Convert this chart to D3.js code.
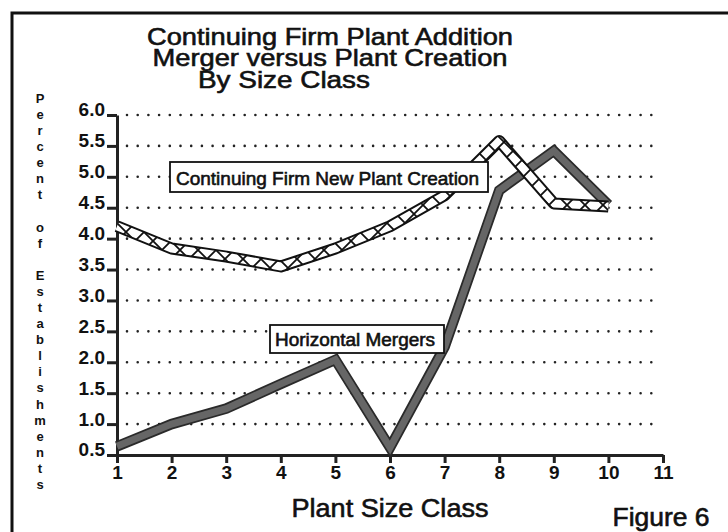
<!DOCTYPE html>
<html lang="en">
<head>
    <meta charset="UTF-8">
    <title>Continuing Firm Plant Addition</title>

<style>
html, body {
    margin: 0;
    padding: 0;
    background: #fff;
}

#graph {
    width: 728px;
    height: 532px;
}

text {
    font-family: "Liberation Sans", Arial, Helvetica, sans-serif;
    fill: #111;
}

.heavy {
    stroke: #111;
    stroke-width: 0.6;
}

.axis text {
    font-weight: bold;
    font-size: 19px;
}

.axis .domain,
.axis .tick line {
    stroke: #222;
    stroke-width: 3;
}

.gridLine {
    stroke: #222;
    stroke-width: 2.6;
    stroke-linecap: round;
    stroke-dasharray: 0 10.7;
}

.legendBox {
    fill: #fff;
    stroke: #111;
    stroke-width: 1.8;
}

</style>

</head>
<body>

<div id="graph"></div>

<script src="https://cdn.jsdelivr.net/npm/d3@7"></script>
<script>

// values
const sizeClasses = [1, 2, 3, 4, 5, 6, 7, 8, 9, 10];
const newPlantCreation = [4.2, 3.84, 3.71, 3.55, 3.84, 4.2, 4.7, 5.58, 4.57, 4.52];
const horizontalMergers = [0.64, 1.0, 1.25, 1.65, 2.04, 0.62, 2.25, 4.78, 5.42, 4.55];

const xTicks = [1, 2, 3, 4, 5, 6, 7, 8, 9, 10, 11];
const yTicks = [0.5, 1.0, 1.5, 2.0, 2.5, 3.0, 3.5, 4.0, 4.5, 5.0, 5.5, 6.0];
const gridValues = [1.0, 1.5, 2.0, 2.5, 3.0, 3.5, 4.0, 4.5, 5.0, 5.5, 6.0];

const titleLines = ["Continuing Firm Plant Addition", "Merger versus Plant Creation", "By Size Class"];
const yTitle = "Percent of Establishments";
const xTitle = "Plant Size Class";
const figureLabel = "Figure 6";
const seriesNames = ["Continuing Firm New Plant Creation", "Horizontal Mergers"];


!(function(){
    let width = 728;
    let height = 532;
    let margin = { top: 115, left: 117, bottom: 77, right: 65 };
    let chartWidth = width - margin.left - margin.right;
    let chartHeight = height - margin.top - margin.bottom;

    let svg = d3.select("#graph").append("svg")
        .attr("width", width)
        .attr("height", height);

    let defs = svg.append("defs");
    let frameLayer = svg.append("g").classed("frameLayer", true);
    let gridLayer = svg.append("g").classed("gridLayer", true)
        .attr("transform", `translate(${margin.left}, ${margin.top})`);
    let axisLayer = svg.append("g").classed("axisLayer", true);
    let chartLayer = svg.append("g").classed("chartLayer", true)
        .attr("transform", `translate(${margin.left}, ${margin.top})`);
    let labelLayer = svg.append("g").classed("labelLayer", true);

    let xScale = d3.scaleLinear().domain([1, 11]).range([0, chartWidth]);
    let yScale = d3.scaleLinear().domain([0.5, 6.0]).range([chartHeight, 0]);

    drawFrame();
    drawGrid();
    drawAxis();
    drawChart();
    drawLabels();

    function drawFrame() {
        // heavy border at the top and left of the page
        frameLayer.append("path")
            .attr("d", "M12,532 L12,13 L728,13")
            .attr("fill", "none")
            .attr("stroke", "#111")
            .attr("stroke-width", 3);

        let title = frameLayer.append("g");
        let titleX = [330, 330, 284];
        let titleY = [45, 66, 88];
        let titleW = [366, 355, 172];
        title.selectAll("text")
            .data(titleLines)
            .enter().append("text")
            .attr("class", "heavy")
            .attr("x", (d, i) => titleX[i])
            .attr("y", (d, i) => titleY[i])
            .attr("text-anchor", "middle")
            .attr("font-size", 24)
            .attr("textLength", (d, i) => titleW[i])
            .attr("lengthAdjust", "spacingAndGlyphs")
            .text(d => d);
    }

    function drawGrid() {
        gridLayer.selectAll(".gridLine")
            .data(gridValues)
            .enter().append("line")
            .attr("class", "gridLine")
            .attr("x1", 10)
            .attr("x2", chartWidth - 3)
            .attr("y1", d => yScale(d))
            .attr("y2", d => yScale(d));
    }

    function drawAxis() {
        let yAxis = d3.axisLeft(yScale)
            .tickValues(yTicks)
            .tickFormat(d3.format(".1f"))
            .tickSizeInner(10)
            .tickSizeOuter(0)
            .tickPadding(2);

        axisLayer.append("g")
            .attr("class", "axis y")
            .attr("transform", `translate(${margin.left}, ${margin.top})`)
            .call(yAxis)
            .call(g => g.selectAll(".tick text").attr("dy", "0.05em"));

        let xAxis = d3.axisBottom(xScale)
            .tickValues(xTicks)
            .tickFormat(d3.format("d"))
            .tickSizeInner(8)
            .tickSizeOuter(0)
            .tickPadding(3);

        axisLayer.append("g")
            .attr("class", "axis x")
            .attr("transform", `translate(${margin.left}, ${margin.top + chartHeight})`)
            .call(xAxis);

        axisLayer.selectAll(".axis").attr("font-family", null).attr("font-size", null);
    }

    function drawChart() {
        let lineGen = d3.line()
            .x(d => xScale(d[0]))
            .y(d => yScale(d[1]));

        let mergers = sizeClasses.map((c, i) => [c, horizontalMergers[i]]);
        let creation = sizeClasses.map((c, i) => [c, newPlantCreation[i]]);

        // cross hatch for the outlined ribbon
        let hatch = defs.append("pattern")
            .attr("id", "hatch")
            .attr("patternUnits", "userSpaceOnUse")
            .attr("width", 18)
            .attr("height", 18);
        hatch.append("rect").attr("width", 18).attr("height", 18).attr("fill", "#fff");
        hatch.append("path")
            .attr("d", "M0,0 L18,18 M18,0 L0,18")
            .attr("stroke", "#111")
            .attr("stroke-width", 1.8);

        chartLayer.append("path")
            .datum(mergers)
            .attr("d", lineGen)
            .attr("fill", "none")
            .attr("stroke", "#2a2a2a")
            .attr("stroke-width", 10.5)
            .attr("stroke-linejoin", "miter");

        chartLayer.append("path")
            .datum(mergers)
            .attr("d", lineGen)
            .attr("fill", "none")
            .attr("stroke", "#666")
            .attr("stroke-width", 7)
            .attr("stroke-linejoin", "miter");

        chartLayer.append("path")
            .datum(creation)
            .attr("d", lineGen)
            .attr("fill", "none")
            .attr("stroke", "#111")
            .attr("stroke-width", 12)
            .attr("stroke-linejoin", "round");

        chartLayer.append("path")
            .datum(creation)
            .attr("d", lineGen)
            .attr("fill", "none")
            .attr("stroke", "url(#hatch)")
            .attr("stroke-width", 8)
            .attr("stroke-linejoin", "round");
    }

    function drawLabels() {
        // series labels in boxes
        let boxes = [
            { x: 170, y: 162, w: 318, h: 30, tx: 176, ty: 185, tw: 303, fs: 19 },
            { x: 270, y: 325, w: 174, h: 28, tx: 275, ty: 346, tw: 160, fs: 18 }
        ];
        let legend = labelLayer.selectAll(".legend")
            .data(seriesNames)
            .enter().append("g")
            .attr("class", "legend");

        legend.append("rect")
            .attr("class", "legendBox")
            .attr("x", (d, i) => boxes[i].x)
            .attr("y", (d, i) => boxes[i].y)
            .attr("width", (d, i) => boxes[i].w)
            .attr("height", (d, i) => boxes[i].h);

        legend.append("text")
            .attr("class", "heavy")
            .attr("x", (d, i) => boxes[i].tx)
            .attr("y", (d, i) => boxes[i].ty)
            .attr("font-size", (d, i) => boxes[i].fs)
            .attr("textLength", (d, i) => boxes[i].tw)
            .attr("lengthAdjust", "spacingAndGlyphs")
            .text(d => d);

        // vertical y title, one letter per row
        let letters = yTitle.split("");
        labelLayer.append("g")
            .selectAll("text")
            .data(letters)
            .enter().append("text")
            .attr("x", 40)
            .attr("y", (d, i) => 103 + i * 16.08)
            .attr("text-anchor", "middle")
            .attr("font-size", 13)
            .attr("font-weight", "bold")
            .text(d => d);

        labelLayer.append("text")
            .attr("class", "heavy")
            .attr("x", 390)
            .attr("y", 517)
            .attr("text-anchor", "middle")
            .attr("font-size", 26)
            .attr("textLength", 197)
            .attr("lengthAdjust", "spacingAndGlyphs")
            .text(xTitle);

        labelLayer.append("text")
            .attr("class", "heavy")
            .attr("x", 661)
            .attr("y", 526)
            .attr("text-anchor", "middle")
            .attr("font-size", 25)
            .attr("textLength", 97)
            .attr("lengthAdjust", "spacingAndGlyphs")
            .text(figureLabel);
    }
}());

</script>

</body>
</html>
